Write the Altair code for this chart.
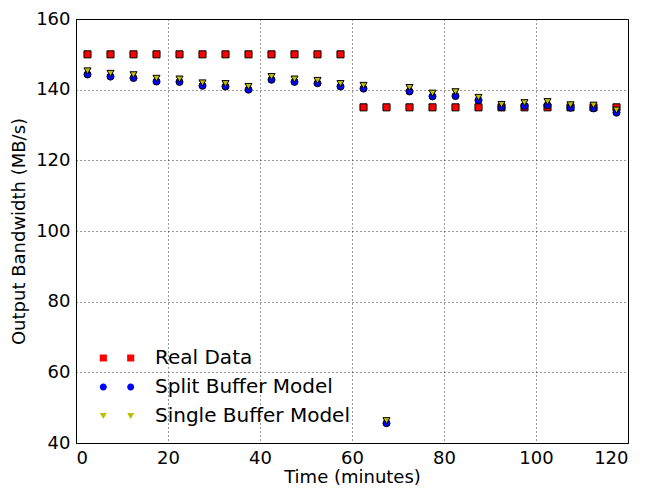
import altair as alt
import pandas as pd

time_min = [2.5, 7.5, 12.5, 17.5, 22.5, 27.5, 32.5, 37.5, 42.5, 47.5, 52.5, 57.5,
            62.5, 67.5, 72.5, 77.5, 82.5, 87.5, 92.5, 97.5, 102.5, 107.5, 112.5, 117.5]
real_data = [150, 150, 150, 150, 150, 150, 150, 150, 150, 150, 150, 150,
             135, 135, 135, 135, 135, 135, 135, 135, 135, 135, 135, 135]
split_buffer = [144.3, 143.7, 143.3, 142.3, 142.2, 141.1, 140.9, 140.0, 142.8, 142.2, 141.8, 140.9,
                140.3, 45.6, 139.5, 138.1, 138.2, 137.0, 135.0, 135.4, 135.6, 134.9, 134.7, 133.5]
single_buffer = [145.3, 144.6, 144.2, 143.2, 143.0, 141.9, 141.7, 140.9, 143.7, 143.0, 142.6, 141.7,
                 141.2, 46.3, 140.6, 139.0, 139.4, 137.8, 135.8, 136.3, 136.6, 135.7, 135.6, 134.2]
series_names = ["Real Data", "Split Buffer Model", "Single Buffer Model"]
series_colors = ["#ff0000", "#0000ff", "#bfbf00"]
series_shapes = ["square", "circle", "triangle-down"]
x_ticks = [0, 20, 40, 60, 80, 100, 120]
y_ticks = [40, 60, 80, 100, 120, 140, 160]

rows = []
for name, vals in zip(series_names, [real_data, split_buffer, single_buffer]):
    for t, v in zip(time_min, vals):
        rows.append({"time": t, "bw": v, "series": name})
df = pd.DataFrame(rows)

# legend symbols: two markers per entry (matplotlib numpoints=2)
D = 3.87
K = 0.5523


def sq(c):
    return f"M{c-1:.3f},-1H{c+1:.3f}V1H{c-1:.3f}Z"


def ci(c):
    return (f"M{c+1:.3f},0C{c+1:.3f},{K} {c+K:.3f},1 {c:.3f},1"
            f"C{c-K:.3f},1 {c-1:.3f},{K} {c-1:.3f},0"
            f"C{c-1:.3f},{-K} {c-K:.3f},-1 {c:.3f},-1"
            f"C{c+K:.3f},-1 {c+1:.3f},{-K} {c+1:.3f},0Z")


def tr(c):
    return f"M{c-1:.3f},-0.87L{c+1:.3f},-0.87L{c:.3f},0.87Z"


legend_shapes = [sq(-D) + sq(D), ci(-D) + ci(D), tr(-D) + tr(D)]

FONT = "DejaVu Sans"
MSIZE = 50

x_axis = alt.Axis(values=x_ticks, title="Time (minutes)", grid=True, ticks=False,
                  labelPadding=6, titlePadding=1)
y_axis = alt.Axis(values=y_ticks, title="Output Bandwidth (MB/s)", grid=True, ticks=False,
                  labelPadding=6, titlePadding=7)
x_enc = alt.X("time:Q", scale=alt.Scale(domain=[0, 120], nice=False), axis=x_axis)
y_enc = alt.Y("bw:Q", scale=alt.Scale(domain=[40, 160], nice=False), axis=y_axis)

points = alt.Chart(df).mark_point(filled=True, stroke="black", strokeWidth=1,
                                  opacity=1, size=MSIZE).encode(
    x=x_enc,
    y=y_enc,
    color=alt.Color("series:N", scale=alt.Scale(domain=series_names, range=series_colors), legend=None),
    shape=alt.Shape("series:N", scale=alt.Scale(domain=series_names, range=series_shapes), legend=None),
)

legend = alt.Legend(orient="none", legendX=31, legendY=329, title=None, padding=0,
                    symbolSize=MSIZE, symbolStrokeColor="black", symbolStrokeWidth=1,
                    labelFont=FONT, labelFontSize=20, labelColor="black", labelLimit=0,
                    labelOffset=28, rowPadding=9, symbolOpacity=1)

legend_layer = alt.Chart(df).transform_filter("false").mark_point(
    filled=True, stroke="black", strokeWidth=1, opacity=1, size=MSIZE).encode(
    x=x_enc,
    y=y_enc,
    color=alt.Color("series:N", scale=alt.Scale(domain=series_names, range=series_colors), legend=legend),
    shape=alt.Shape("series:N", scale=alt.Scale(domain=series_names, range=legend_shapes), legend=legend),
)

chart = alt.layer(points, legend_layer).resolve_scale(
    color="independent", shape="independent"
).properties(
    width=552, height=424,
    autosize=alt.AutoSizeParams(type="none"),
    padding={"left": 68, "top": 11, "right": 17, "bottom": 45},
).configure_view(
    stroke="black", strokeWidth=1
).configure_axis(
    labelFont=FONT, labelFontSize=18, labelColor="black",
    titleFont=FONT, titleFontSize=18, titleFontWeight="normal", titleColor="black",
    domain=True, domainColor="black", domainWidth=1,
    gridColor="black", gridDash=[1, 3], gridWidth=0.8, gridOpacity=1,
)

chart.save("out.html", embed_options={"renderer": "svg", "actions": False})
